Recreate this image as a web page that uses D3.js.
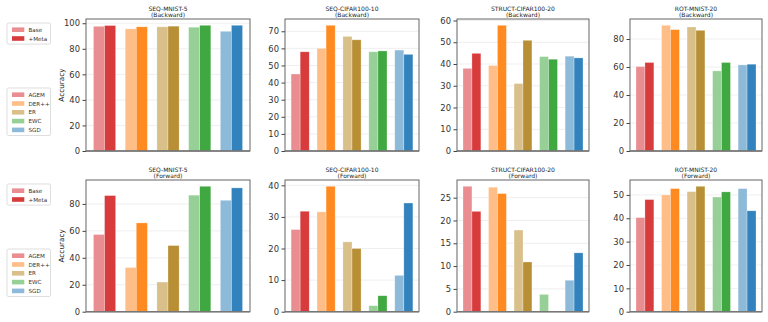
<!doctype html>
<html>
<head>
<meta charset="utf-8">
<title>Backward / Forward accuracy</title>
<script src="https://cdn.jsdelivr.net/npm/d3@7"></script>
<style>
  body { margin: 0; background: #fff; }
  svg { font-family: "DejaVu Sans", sans-serif; }
  .tick text { fill: #333; }
</style>
</head>
<body>
<div id="viz"></div>
<script>
// data
const methods = ["AGEM", "DER++", "ER", "EWC", "SGD"];
const datasets = ["SEQ-MNIST-5", "SEQ-CIFAR100-10", "STRUCT-CIFAR100-20", "ROT-MNIST-20"];
const variants = ["Base", "+Meta"];

const backwardBase = [
  [97.6, 95.6, 97.2, 96.9, 93.7],
  [45.0, 60.0, 67.0, 58.0, 59.0],
  [38.0, 39.3, 31.0, 43.4, 43.6],
  [60.3, 89.8, 88.6, 57.2, 61.5]
];
const backwardMeta = [
  [98.2, 97.2, 97.7, 98.4, 98.4],
  [58.0, 73.5, 65.0, 58.5, 56.5],
  [44.9, 57.8, 50.9, 42.2, 42.8],
  [63.2, 86.7, 86.2, 63.2, 62.0]
];
const forwardBase = [
  [57.3, 32.8, 22.0, 86.5, 82.7],
  [26.0, 31.6, 22.1, 1.9, 11.5],
  [27.5, 27.3, 17.9, 3.8, 6.9],
  [40.3, 50.0, 51.4, 49.1, 52.7]
];
const forwardMeta = [
  [86.2, 65.9, 49.1, 93.1, 91.9],
  [31.8, 39.7, 20.0, 5.05, 34.4],
  [22.0, 25.9, 10.9, 0.15, 12.9],
  [48.0, 52.7, 53.7, 51.3, 43.2]
];
const backwardTickStep = [20, 10, 10, 20];
const forwardTickStep = [20, 10, 5, 10];

// colours: light = Base, strong = +Meta
const baseColors = ["#e98d90", "#ffbe87", "#d9c08b", "#97d097", "#8dbad9"];
const metaColors = ["#d83b3c", "#ff8a22", "#b88f35", "#40a840", "#3283bd"];

const W = 768, H = 322;
const panelX = [[86, 250], [285, 419], [457, 589], [630, 762]];
const rows = [
  { name: "Backward", top: 19, bottom: 151, base: backwardBase, meta: backwardMeta, step: backwardTickStep },
  { name: "Forward", top: 180, bottom: 311.7, base: forwardBase, meta: forwardMeta, step: forwardTickStep }
];
const barW = 0.35;

const svg = d3.select("#viz").append("svg")
  .attr("width", W).attr("height", H);

rows.forEach(row => {
  datasets.forEach((ds, d) => {
    const [x0, x1] = panelX[d];
    const vals = methods.map((m, i) => ({ i, base: row.base[d][i], meta: row.meta[d][i] }));
    const maxV = d3.max(vals, v => Math.max(v.base, v.meta));

    const x = d3.scaleLinear().domain([-barW - 0.235, 4 + barW + 0.235]).range([x0, x1]);
    const y = d3.scaleLinear().domain([0, maxV * 1.05]).range([row.bottom, row.top]);
    const ticks = d3.range(0, maxV * 1.05 + 1e-9, row.step[d]);

    const g = svg.append("g");

    // grid
    g.append("g").selectAll("line").data(ticks).join("line")
      .attr("x1", x0).attr("x2", x1)
      .attr("y1", t => y(t)).attr("y2", t => y(t))
      .attr("stroke", "#ebebeb").attr("stroke-width", 0.8);

    // bars
    const bars = g.append("g");
    bars.selectAll("rect.base").data(vals).join("rect")
      .attr("class", "base")
      .attr("x", v => x(v.i - barW))
      .attr("width", v => x(v.i) - x(v.i - barW))
      .attr("y", v => y(v.base))
      .attr("height", v => y(0) - y(v.base))
      .attr("fill", v => baseColors[v.i])
      .attr("stroke", "#fff").attr("stroke-opacity", 0.45).attr("stroke-width", 0.6);
    bars.selectAll("rect.meta").data(vals).join("rect")
      .attr("class", "meta")
      .attr("x", v => x(v.i))
      .attr("width", v => x(v.i + barW) - x(v.i))
      .attr("y", v => y(v.meta))
      .attr("height", v => y(0) - y(v.meta))
      .attr("fill", v => metaColors[v.i])
      .attr("stroke", "#fff").attr("stroke-opacity", 0.45).attr("stroke-width", 0.6);

    // y axis
    const ax = g.append("g")
      .attr("transform", `translate(${x0},0)`)
      .call(d3.axisLeft(y).tickValues(ticks).tickSize(3.5).tickPadding(2.5).tickFormat(d3.format("d")));
    ax.select(".domain").remove();
    ax.selectAll(".tick line").attr("stroke", "#444");
    ax.selectAll(".tick text").attr("font-size", 8.4).attr("font-family", "DejaVu Sans");

    // frame
    g.append("rect")
      .attr("x", x0).attr("y", row.top)
      .attr("width", x1 - x0).attr("height", row.bottom - row.top)
      .attr("fill", "none").attr("stroke", "#555").attr("stroke-width", 0.9);
    g.append("line")
      .attr("x1", x0).attr("x2", x1)
      .attr("y1", row.bottom).attr("y2", row.bottom)
      .attr("stroke", "#777").attr("stroke-width", 1.4);

    // title
    const cx = (x0 + x1) / 2;
    const title = g.append("text")
      .attr("text-anchor", "middle").attr("font-size", 6).attr("fill", "#222");
    title.append("tspan").attr("x", cx).attr("y", row.top - 8).text(ds);
    title.append("tspan").attr("x", cx).attr("y", row.top - 1.8).text(`(${row.name})`);

    if (d === 0) {
      g.append("text")
        .attr("transform", `translate(63.5,${(row.top + row.bottom) / 2}) rotate(-90)`)
        .attr("text-anchor", "middle")
        .attr("font-size", 7.3).attr("fill", "#222")
        .text("Accuracy");
    }
  });

  // legends
  const legend = (items, colors, top) => {
    const lg = svg.append("g");
    const h = items.length * 8.8 + 3.5;
    lg.append("rect")
      .attr("x", 7).attr("y", top).attr("width", 43.5).attr("height", h)
      .attr("rx", 1.5).attr("fill", "#fff")
      .attr("stroke", "#d0d0d0").attr("stroke-width", 0.7);
    items.forEach((name, k) => {
      const cy = top + 4.3 + k * 8.8 + 2.4;
      lg.append("rect")
        .attr("x", 12).attr("y", cy - 2.3).attr("width", 12.3).attr("height", 4.6)
        .attr("fill", colors[k]);
      lg.append("text")
        .attr("x", 28.5).attr("y", cy + 2)
        .attr("font-size", 5.6).attr("fill", "#333")
        .text(name);
    });
  };
  legend(variants, [baseColors[0], metaColors[0]], row.top + 4);
  legend(methods, baseColors, row.top + 69);
});
</script>
</body>
</html>
